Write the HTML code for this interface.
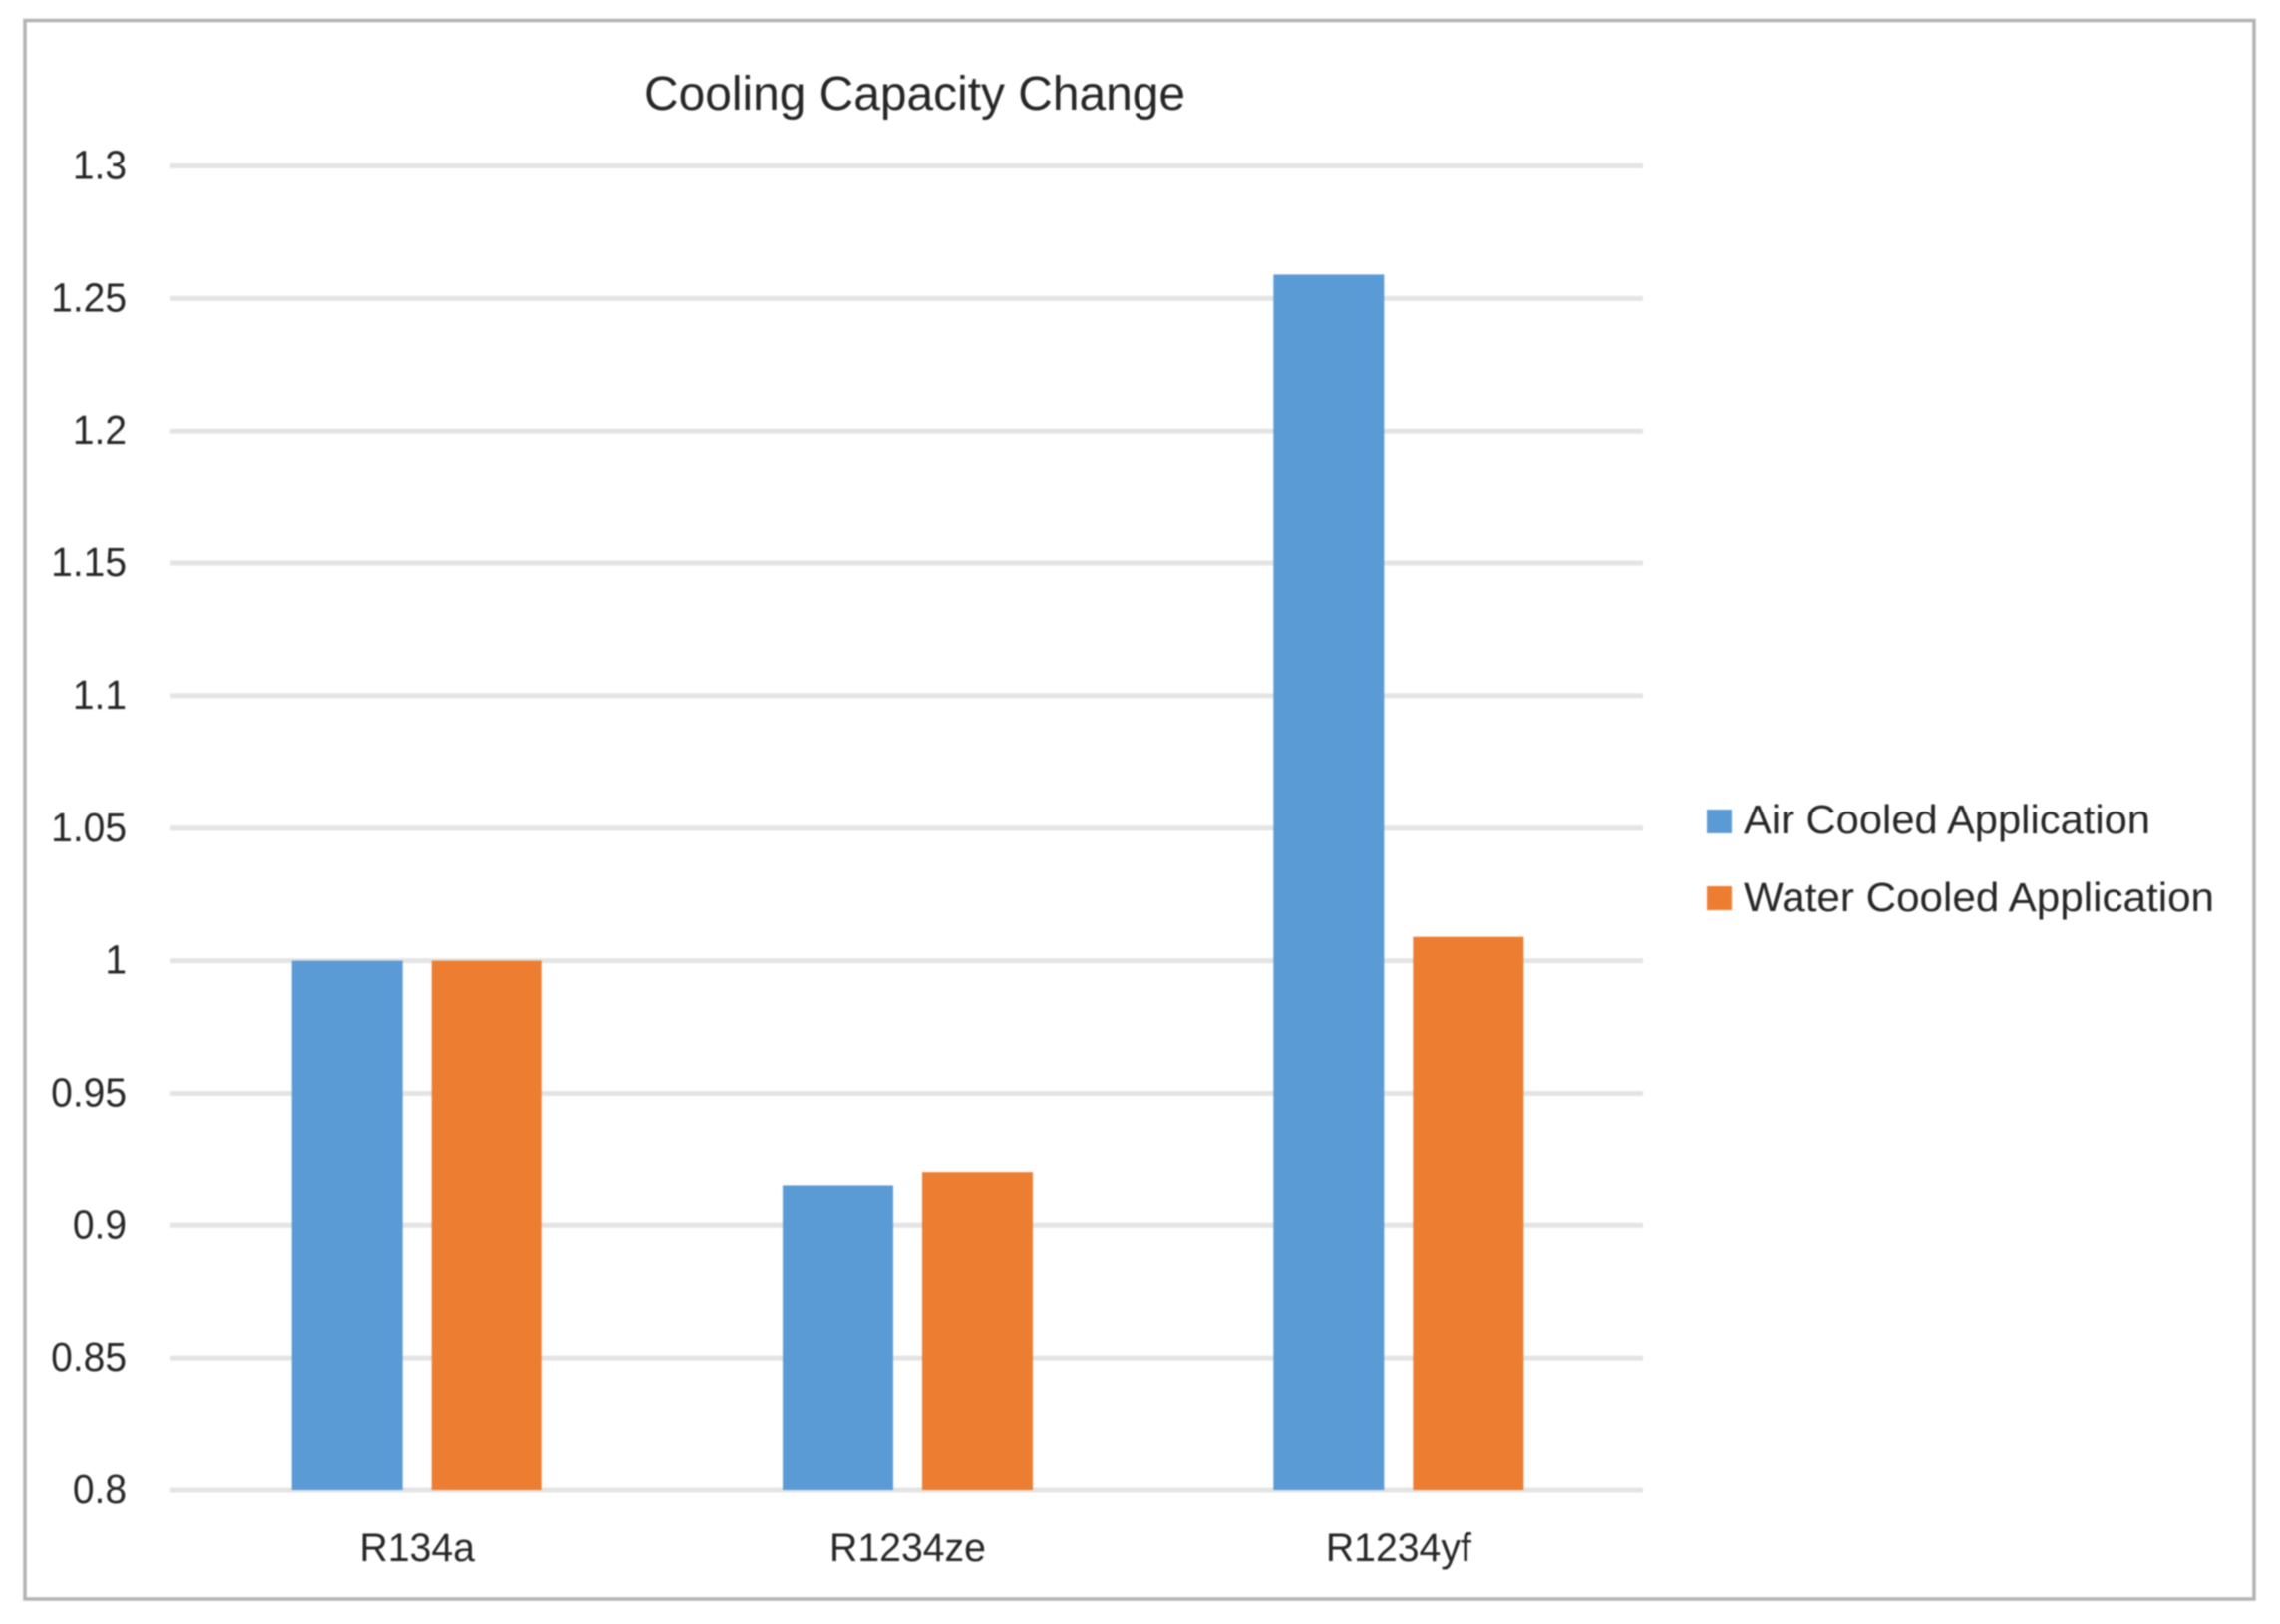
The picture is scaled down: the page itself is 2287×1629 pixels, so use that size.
<!DOCTYPE html>
<html lang="en">
<head>
<meta charset="utf-8">
<title>Cooling Capacity Change</title>
<style>
html,body{margin:0;padding:0;background:#fff;width:2287px;height:1629px;overflow:hidden}
svg{display:block;filter:blur(.8px)}
text{font-family:"Liberation Sans",sans-serif;fill:#262626}
</style>
</head>
<body>
<svg id="chart" xmlns="http://www.w3.org/2000/svg" width="2287" height="1629" viewBox="0 0 2287 1629">
  <rect x="25" y="20.5" width="2236" height="1583.5" fill="#fff" stroke="#b3b3b3" stroke-width="3.5"/>
  <text x="646" y="110" font-size="48" textLength="543" lengthAdjust="spacingAndGlyphs">Cooling Capacity Change</text>
  <g id="grid"></g>
  <g id="yticks"></g>
  <g id="bars"></g>
  <g id="xticks"></g>
  <g>
    <rect x="1712" y="812" width="25" height="24" fill="#5b9bd5"/>
    <text x="1749" y="836" font-size="41" textLength="408" lengthAdjust="spacingAndGlyphs">Air Cooled Application</text>
    <rect x="1712" y="889" width="25" height="24" fill="#ed7d31"/>
    <text x="1749" y="914" font-size="41" textLength="472" lengthAdjust="spacingAndGlyphs">Water Cooled Application</text>
  </g>
</svg>
<script>
const categories = ["R134a", "R1234ze", "R1234yf"];
const airCooled = [1, 0.915, 1.259];
const waterCooled = [1, 0.92, 1.009];
const tickValues = [0.8, 0.85, 0.9, 0.95, 1, 1.05, 1.1, 1.15, 1.2, 1.25, 1.3];
const tickLabels = ["0.8", "0.85", "0.9", "0.95", "1", "1.05", "1.1", "1.15", "1.2", "1.25", "1.3"];

const NS = "http://www.w3.org/2000/svg";
const plot = { left: 171, right: 1648, top: 166.5, bottom: 1495 };
const yMin = 0.8, yMax = 1.3;
function yScale(v) {
  return plot.bottom - (v - yMin) / (yMax - yMin) * (plot.bottom - plot.top);
}
function bandCenter(i) {
  return plot.left + (i + 0.5) * (plot.right - plot.left) / categories.length;
}
const barWidth = 111;
const barOffset = 70;
const barShift = 1;
const grid = document.getElementById("grid");
const yticks = document.getElementById("yticks");
const bars = document.getElementById("bars");
const xticks = document.getElementById("xticks");

function condense(t, factor) {
  const w = t.getComputedTextLength();
  t.setAttribute("textLength", w * factor);
  t.setAttribute("lengthAdjust", "spacingAndGlyphs");
}

tickValues.forEach(function (v, i) {
  const line = document.createElementNS(NS, "line");
  line.setAttribute("x1", plot.left);
  line.setAttribute("x2", plot.right);
  line.setAttribute("y1", yScale(v));
  line.setAttribute("y2", yScale(v));
  line.setAttribute("stroke", "#e4e4e4");
  line.setAttribute("stroke-width", "5");
  
  
  grid.appendChild(line);

  const t = document.createElementNS(NS, "text");
  t.setAttribute("x", 127);
  t.setAttribute("y", yScale(v) + 13);
  t.setAttribute("font-size", "41");
  t.setAttribute("text-anchor", "end");
  t.textContent = tickLabels[i];
  
  
  yticks.appendChild(t);
  condense(t, 0.95);
});

function addBar(i, value, dx, color) {
  const r = document.createElementNS(NS, "rect");
  const top = yScale(value);
  r.setAttribute("x", bandCenter(i) + barShift + dx - barWidth / 2);
  r.setAttribute("y", top);
  r.setAttribute("width", barWidth);
  r.setAttribute("height", plot.bottom - top);
  r.setAttribute("fill", color);
  
  
  bars.appendChild(r);
}

categories.forEach(function (c, i) {
  addBar(i, airCooled[i], -barOffset, "#5b9bd5");
  addBar(i, waterCooled[i], barOffset, "#ed7d31");
  const t = document.createElementNS(NS, "text");
  t.setAttribute("x", bandCenter(i) + 1);
  t.setAttribute("y", 1566);
  t.setAttribute("font-size", "40");
  t.setAttribute("text-anchor", "middle");
  t.textContent = c;
  
  
  xticks.appendChild(t);
  condense(t, 0.98);
});
</script>
</body>
</html>
